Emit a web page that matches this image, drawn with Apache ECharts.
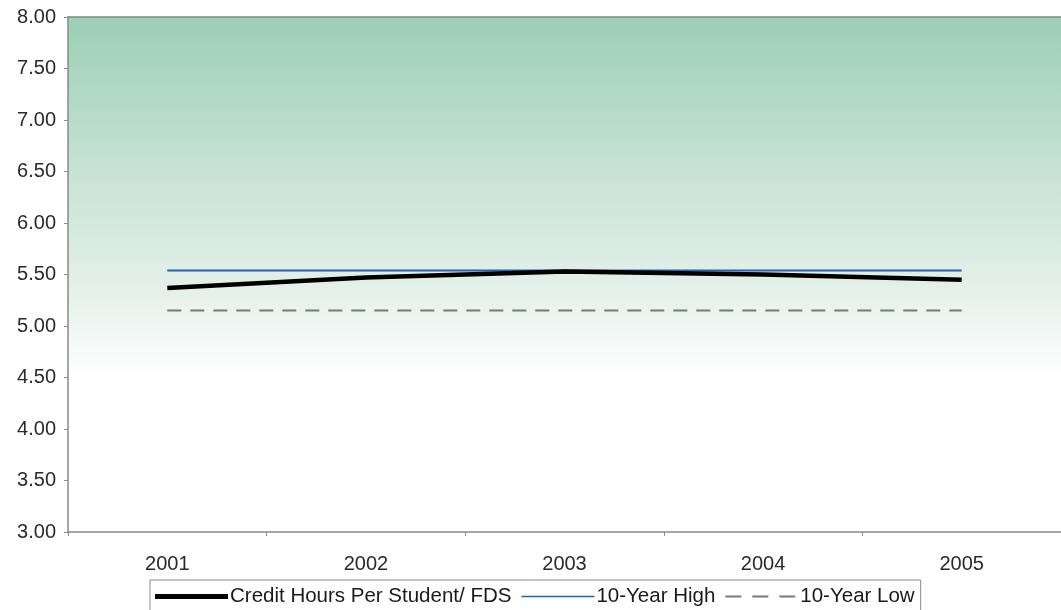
<!DOCTYPE html>
<html><head><meta charset="utf-8">
<script src="https://cdn.jsdelivr.net/npm/echarts@6/dist/echarts.min.js"></script>
<style>html,body{margin:0;padding:0;background:#fff}#c{width:1061px;height:610px}</style>
</head><body><div id="c"></div>
<script>
const categories = ['2001','2002','2003','2004','2005'];
const creditHours = [5.37, 5.47, 5.53, 5.50, 5.45];
const tenYearHigh = [5.54, 5.54, 5.54, 5.54, 5.54];
const tenYearLow = [5.15, 5.15, 5.15, 5.15, 5.15];
const yTicks = [3, 8, 0.5];

const chart = echarts.init(document.getElementById('c'));
const font = 'Liberation Sans, Arial, sans-serif';
chart.setOption({
  animation: false,
  grid: {left: 68, top: 17, width: 1000, height: 515, show: true, borderWidth: 0,
    backgroundColor: new echarts.graphic.LinearGradient(0,0,0,1,[
      {offset:0, color:'#9ccfb5'},
      {offset:0.32, color:'#cae4d7'},
      {offset:0.54, color:'#e6f1eb'},
      {offset:0.70, color:'#ffffff'},
      {offset:1, color:'#ffffff'}])},
  xAxis: [{type:'category', data: categories, boundaryGap: true,
    axisLine:{lineStyle:{color:'#8a8a8a', width:1.5}},
    axisTick:{show:true, inside:false, length:4, lineStyle:{color:'#8a8a8a'}},
    axisLabel:{color:'#2a2a2a', fontSize:20, fontFamily:font, margin:22}},
    {type:'category', data: categories, position:'top',
    axisLine:{lineStyle:{color:'#7a8a82', width:1.5}},
    axisTick:{show:false}, axisLabel:{show:false}}],
  yAxis: {type:'value', min: yTicks[0], max: yTicks[1], interval: yTicks[2],
    splitLine:{show:false},
    axisLine:{show:true, lineStyle:{color:'#8a8a8a', width:1.5}},
    axisTick:{show:true, length:4, lineStyle:{color:'#8a8a8a'}},
    axisLabel:{color:'#2a2a2a', fontSize:20, fontFamily:font, margin:12,
      formatter: v => v.toFixed(2)}},
  legend: {top: 580, left: 150, itemGap: 10, itemWidth: 73, itemHeight: 14,
    borderColor:'#8a8a8a', borderWidth:1, padding:[6,6,16,5], backgroundColor:'#fff',
    textStyle:{color:'#1a1a1a', fontSize:20.5, fontFamily:font, padding:[0,0,0,-3]},
    data:[
      {name:'Credit Hours Per Student/ FDS', icon:'path://M0,0 L73,0 L73,5 L0,5 Z'},
      {name:'10-Year High', icon:'path://M0,0 L73,0 L73,1.6 L0,1.6 Z'},
      {name:'10-Year Low', icon:'path://M0,0 L16,0 L16,2 L0,2 Z M27,0 L43,0 L43,2 L27,2 Z M54,0 L70,0 L70,2 L54,2 Z M73,0 L73,2 Z'}]},
  series: [
    {name:'Credit Hours Per Student/ FDS', type:'line', data: creditHours, symbol:'none',
      lineStyle:{color:'#000', width:4.5}, itemStyle:{color:'#000'}, z:3},
    {name:'10-Year High', type:'line', data: tenYearHigh, symbol:'none',
      lineStyle:{color:'#2a5faa', width:2}, itemStyle:{color:'#2a5faa'}, z:2},
    {name:'10-Year Low', type:'line', data: tenYearLow, symbol:'none',
      lineStyle:{color:'#6f7f78', width:2, type:[14,9]}, itemStyle:{color:'#6f7f78'}, z:2}
  ]
});
</script></body></html>
